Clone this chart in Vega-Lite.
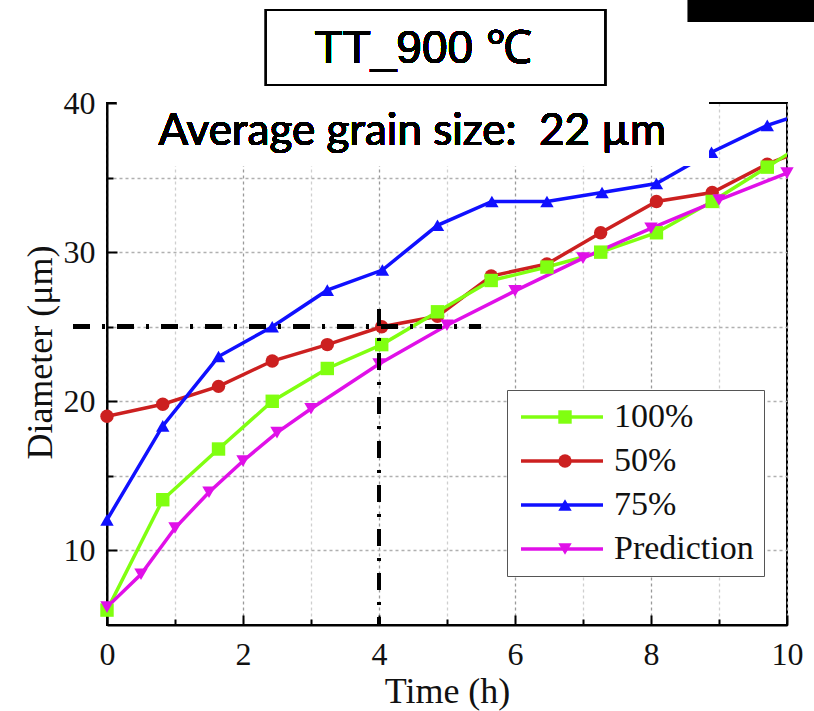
{
  "$schema": "https://vega.github.io/schema/vega-lite/v6.json",
  "width": 680,
  "height": 522,
  "autosize": {"type": "none"},
  "padding": {"left": 107, "top": 103, "right": 27, "bottom": 86},
  "background": "white",
  "config": {
    "view": {"stroke": "black", "strokeWidth": 2},
    "axis": {
      "labelFont": "Liberation Serif", "labelFontSize": 32, "labelColor": "#111",
      "titleFont": "Liberation Serif", "titleFontSize": 36, "titleFontWeight": "normal", "titleColor": "#111",
      "domainColor": "black", "domainWidth": 2, "tickColor": "black", "tickWidth": 2
    }
  },
  "data": {
    "values": [
      {"series": "50%", "t": 0, "d": 19.0},
      {"series": "50%", "t": 0.82, "d": 19.8},
      {"series": "50%", "t": 1.64, "d": 21.0},
      {"series": "50%", "t": 2.43, "d": 22.7},
      {"series": "50%", "t": 3.24, "d": 23.8},
      {"series": "50%", "t": 4.04, "d": 25.0},
      {"series": "50%", "t": 4.86, "d": 25.7},
      {"series": "50%", "t": 5.65, "d": 28.4},
      {"series": "50%", "t": 6.47, "d": 29.2},
      {"series": "50%", "t": 7.26, "d": 31.3},
      {"series": "50%", "t": 8.08, "d": 33.4},
      {"series": "50%", "t": 8.9, "d": 34.0},
      {"series": "50%", "t": 9.71, "d": 35.9},
      {"series": "50%", "t": 10.5, "d": 37.3},
      {"series": "75%", "t": 0, "d": 12.05},
      {"series": "75%", "t": 0.82, "d": 18.35},
      {"series": "75%", "t": 1.64, "d": 23.0},
      {"series": "75%", "t": 2.43, "d": 25.0},
      {"series": "75%", "t": 3.24, "d": 27.45},
      {"series": "75%", "t": 4.05, "d": 28.8},
      {"series": "75%", "t": 4.86, "d": 31.8},
      {"series": "75%", "t": 5.66, "d": 33.4},
      {"series": "75%", "t": 6.47, "d": 33.4},
      {"series": "75%", "t": 7.28, "d": 34.0},
      {"series": "75%", "t": 8.08, "d": 34.6},
      {"series": "75%", "t": 8.89, "d": 36.7},
      {"series": "75%", "t": 9.71, "d": 38.5},
      {"series": "75%", "t": 10.5, "d": 39.7},
      {"series": "100%", "t": 0, "d": 6.0},
      {"series": "100%", "t": 0.82, "d": 13.4},
      {"series": "100%", "t": 1.64, "d": 16.8},
      {"series": "100%", "t": 2.43, "d": 20.0},
      {"series": "100%", "t": 3.24, "d": 22.2},
      {"series": "100%", "t": 4.04, "d": 23.8},
      {"series": "100%", "t": 4.86, "d": 26.0},
      {"series": "100%", "t": 5.65, "d": 28.1},
      {"series": "100%", "t": 6.47, "d": 29.0},
      {"series": "100%", "t": 7.26, "d": 30.0},
      {"series": "100%", "t": 8.08, "d": 31.3},
      {"series": "100%", "t": 8.9, "d": 33.4},
      {"series": "100%", "t": 9.71, "d": 35.7},
      {"series": "100%", "t": 10.5, "d": 38.0},
      {"series": "Prediction", "t": 0, "d": 6.2},
      {"series": "Prediction", "t": 0.5, "d": 8.4},
      {"series": "Prediction", "t": 1.0, "d": 11.5},
      {"series": "Prediction", "t": 1.5, "d": 13.9},
      {"series": "Prediction", "t": 2.0, "d": 16.0},
      {"series": "Prediction", "t": 2.5, "d": 17.9},
      {"series": "Prediction", "t": 3.0, "d": 19.5},
      {"series": "Prediction", "t": 4.0, "d": 22.5},
      {"series": "Prediction", "t": 5.0, "d": 25.1},
      {"series": "Prediction", "t": 6.0, "d": 27.4},
      {"series": "Prediction", "t": 7.0, "d": 29.6},
      {"series": "Prediction", "t": 8.0, "d": 31.6},
      {"series": "Prediction", "t": 9.0, "d": 33.5},
      {"series": "Prediction", "t": 10.0, "d": 35.3}
    ]
  },
  "layer": [
    {
      "mark": {"type": "line", "strokeWidth": 3.5, "clip": true},
      "encoding": {
        "x": {
          "field": "t", "type": "quantitative",
          "scale": {"domain": [0, 10], "nice": false, "zero": false},
          "axis": {
            "title": "Time (h)",
            "values": [0, 1, 2, 3, 4, 5, 6, 7, 8, 9, 10],
            "format": "d",
            "labelExpr": "datum.value % 2 === 0 ? datum.label : ''",
            "labelFlush": false, "labelOverlap": false,
            "tickSize": {"condition": {"test": "datum.value % 2 === 0", "value": -10}, "value": -6},
            "grid": true,
            "gridColor": {"condition": {"test": "datum.value % 2 === 0", "value": "#9a9a9a"}, "value": "#cfcfcf"},
            "gridDash": [3, 3], "gridWidth": 1.3,
            "labelPadding": 24, "titlePadding": 0
          }
        },
        "y": {
          "field": "d", "type": "quantitative",
          "scale": {"domain": [5, 40], "nice": false, "zero": false},
          "axis": {
            "title": "Diameter (\u03bcm)",
            "values": [10, 15, 20, 25, 30, 35, 40],
            "format": "d",
            "labelExpr": "datum.value % 10 === 0 ? datum.label : ''",
            "labelOverlap": false,
            "tickSize": {"condition": {"test": "datum.value % 10 === 0", "value": -10}, "value": -6},
            "grid": true,
            "gridColor": {"condition": {"test": "datum.value === 40", "value": "transparent"}, "value": "#b0b0b0"},
            "gridDash": [3, 3], "gridWidth": 1.3,
            "labelPadding": 22, "titlePadding": 4, "titleY": 249
          }
        },
        "stroke": {
          "field": "series", "type": "nominal",
          "scale": {"domain": ["100%", "50%", "75%", "Prediction"], "range": ["#80ff10", "#cc2020", "#1010ff", "#e010e8"]},
          "legend": {
            "orient": "none", "legendX": 400, "legendY": 287, "title": null,
            "symbolType": "M-3,0H3", "symbolSize": 747, "symbolStrokeWidth": 3.5, "symbolOffset": 28,
            "labelFont": "Liberation Serif", "labelFontSize": 34, "labelColor": "#111",
            "labelOffset": 35, "rowPadding": 10, "padding": 10,
            "strokeColor": "#555", "fillColor": "white", "zindex": 1
          }
        }
      }
    },
    {
      "transform": [{"filter": "datum.t <= 10"}],
      "mark": {"type": "point", "filled": true, "size": 180, "opacity": 1},
      "encoding": {
        "x": {"field": "t", "type": "quantitative"},
        "y": {"field": "d", "type": "quantitative"},
        "fill": {
          "field": "series", "type": "nominal",
          "scale": {"range": ["#80ff10", "#cc2020", "#1010ff", "#e010e8"]},
          "legend": {
            "orient": "none", "legendX": 400, "legendY": 287, "title": null,
            "symbolSize": 180, "symbolStrokeWidth": 0, "symbolOffset": 31,
            "labelFont": "Liberation Serif", "labelFontSize": 34, "labelOpacity": 0,
            "labelExpr": "' '",
            "labelOffset": 10, "rowPadding": 10, "padding": 10, "zindex": 2
          }
        },
        "shape": {
          "field": "series", "type": "nominal",
          "scale": {"range": ["square", "circle", "triangle-up", "triangle-down"]},
          "legend": {
            "orient": "none", "legendX": 400, "legendY": 287, "title": null,
            "symbolSize": 180, "symbolStrokeWidth": 0, "symbolOffset": 31,
            "labelFont": "Liberation Serif", "labelFontSize": 34, "labelOpacity": 0,
            "labelExpr": "' '",
            "labelOffset": 10, "rowPadding": 10, "padding": 10, "zindex": 2
          }
        }
      }
    },
    {
      "mark": {"type": "rule", "strokeWidth": 2, "color": "black"},
      "encoding": {"x": {"datum": 0}, "x2": {"datum": 10}, "y": {"datum": 40}}
    },
    {
      "mark": {"type": "rule", "strokeWidth": 4, "strokeDash": [17, 12, 3, 12], "color": "black"},
      "encoding": {"x": {"datum": -0.5}, "x2": {"datum": 5.5}, "y": {"datum": 25}}
    },
    {
      "mark": {"type": "rule", "strokeWidth": 4, "strokeDash": [17, 12, 3, 12], "color": "black"},
      "encoding": {"x": {"datum": 4}, "y": {"datum": 26.19}, "y2": {"datum": 5}}
    },
    {
      "mark": {"type": "rect", "fill": "white"},
      "encoding": {"x": {"datum": 0.147}, "x2": {"datum": 8.853}, "y": {"datum": 40.87}, "y2": {"datum": 35.78}}
    },
    {
      "mark": {"type": "text", "font": "Lato", "fontSize": 44, "align": "center", "baseline": "alphabetic", "color": "black"},
      "encoding": {"x": {"datum": 4.49}, "y": {"datum": 37.18}, "text": {"value": "Average grain size:\u00a0 22 \u00b5m"}}
    },
    {
      "mark": {"type": "rect", "fill": "white", "stroke": "black", "strokeWidth": 2},
      "encoding": {"x": {"datum": 2.338}, "x2": {"datum": 7.324}, "y": {"datum": 46.24}, "y2": {"datum": 41.21}}
    },
    {
      "mark": {"type": "text", "font": "Liberation Sans", "fontSize": 46, "align": "center", "baseline": "alphabetic", "color": "black"},
      "encoding": {"x": {"datum": 4.65}, "y": {"datum": 42.68}, "text": {"value": "TT_900 \u2103"}}
    },
    {
      "mark": {"type": "rect", "fill": "black"},
      "encoding": {"x": {"datum": 8.544}, "x2": {"datum": 10.4}, "y": {"datum": 46.91}, "y2": {"datum": 45.43}}
    }
  ]
}
